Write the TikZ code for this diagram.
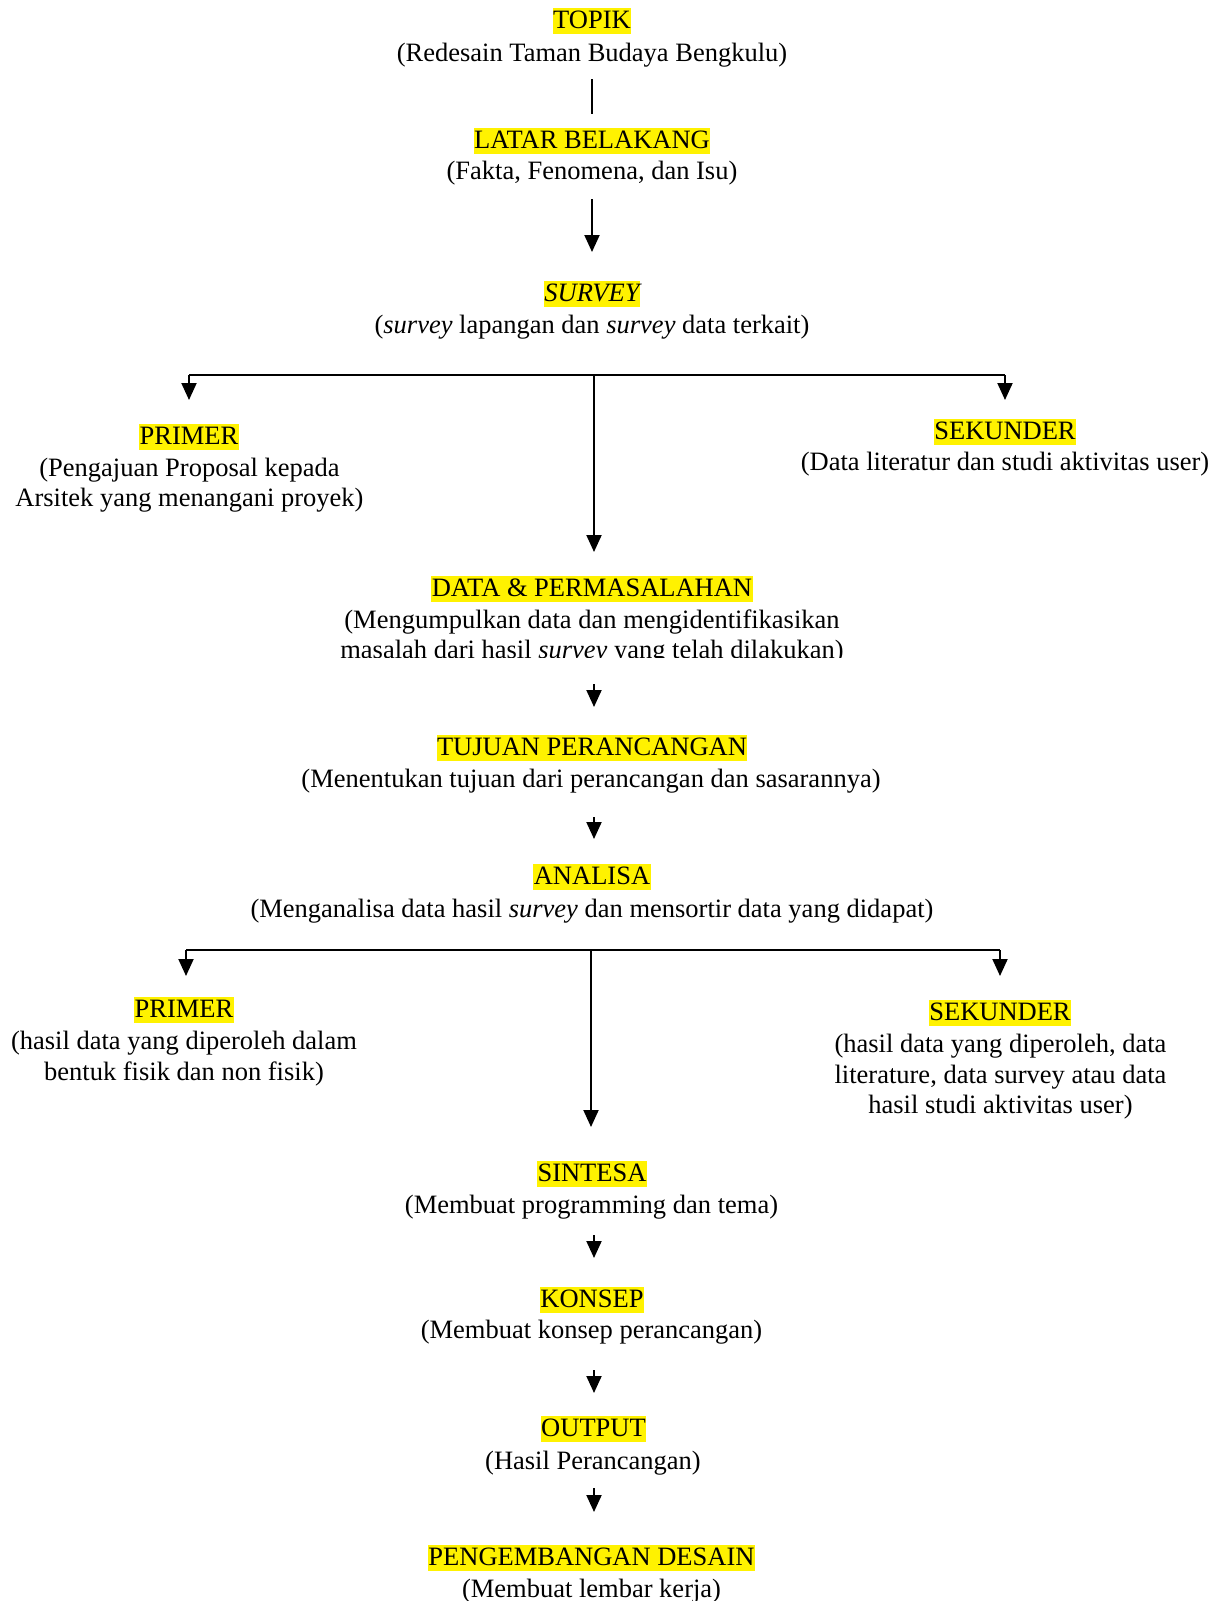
\documentclass[tikz,border=0pt]{standalone}
\usepackage{fontspec}
\setmainfont{Liberation Serif}
\usetikzlibrary{arrows.meta}
\begin{document}
\begin{tikzpicture}[x=1pt,y=-1pt,
  ttl/.style={fill=yellow,inner xsep=0.5pt,inner ysep=0pt,text height=20.5pt,text depth=5.5pt,
    font=\fontsize{26.5pt}{30.6pt}\selectfont},
  sub/.style={inner sep=0pt,align=center,font=\fontsize{26.5pt}{30.6pt}\selectfont},
  arr/.style={line width=2pt,-{Triangle[length=17pt,width=15pt]}},
  ln/.style={line width=2pt}]
\useasboundingbox (0,0) rectangle (1221,1601);

% TOPIK
\node[ttl] (t1) at (592,21) {TOPIK};
\node[sub] (s1) at (592,55) {(Redesain Taman Budaya Bengkulu)};
% LATAR BELAKANG
\node[ttl] (t2) at (592,141) {LATAR BELAKANG};
\node[sub] (s2) at (592,173) {(Fakta, Fenomena, dan Isu)};
% SURVEY
\node[ttl] (t3) at (592,294) {\itshape SURVEY};
\node[sub] (s3) at (592,327) {(\textit{survey} lapangan dan \textit{survey} data terkait)};
% PRIMER 1
\node[ttl] (t4) at (189,437) {PRIMER};
\node[sub] (s4) at (189.5,485) {(Pengajuan Proposal kepada\\Arsitek yang menangani proyek)};
% SEKUNDER 1
\node[ttl] (t5) at (1005,432) {SEKUNDER};
\node[sub] (s5) at (1005,464) {(Data literatur dan studi aktivitas user)};
% DATA & PERMASALAHAN
\node[ttl] (t6) at (592,589) {DATA \& PERMASALAHAN};
\begin{scope}
\clip (0,0) rectangle (1221,657);
\node[sub] (s6) at (592,637) {(Mengumpulkan data dan mengidentifikasikan\\masalah dari hasil \textit{survey} yang telah dilakukan)};
\end{scope}
% TUJUAN
\node[ttl] (t7) at (592,748) {TUJUAN PERANCANGAN};
\node[sub] (s7) at (591,781) {(Menentukan tujuan dari perancangan dan sasarannya)};
% ANALISA
\node[ttl] (t8) at (592,877) {ANALISA};
\node[sub] (s8) at (592,911) {(Menganalisa data hasil \textit{survey} dan mensortir data yang didapat)};
% PRIMER 2
\node[ttl] (t9) at (184,1010) {PRIMER};
\node[sub] (s9) at (184,1058.5) {(hasil data yang diperoleh dalam\\bentuk fisik dan non fisik)};
% SEKUNDER 2
\node[ttl] (t10) at (1000,1013) {SEKUNDER};
\node[sub] (s10) at (1000.5,1077) {(hasil data yang diperoleh, data\\literature, data survey atau data\\hasil studi aktivitas user)};
% SINTESA
\node[ttl] (t11) at (592,1174) {SINTESA};
\node[sub] (s11) at (591.5,1207) {(Membuat programming dan tema)};
% KONSEP
\node[ttl] (t12) at (592,1300) {KONSEP};
\node[sub] (s12) at (591.5,1332) {(Membuat konsep perancangan)};
% OUTPUT
\node[ttl] (t13) at (593.5,1429) {OUTPUT};
\node[sub] (s13) at (593,1463) {(Hasil Perancangan)};
% PENGEMBANGAN DESAIN
\node[ttl] (t14) at (591.5,1558) {PENGEMBANGAN DESAIN};
\node[sub] (s14) at (591.5,1591) {(Membuat lembar kerja)};

% connector coordinates
\coordinate (c1a) at (592,79);   \coordinate (c1b) at (592,114);
\coordinate (c2a) at (592,199);  \coordinate (c2b) at (592,252);
\coordinate (f1L) at (189,375);  \coordinate (f1R) at (1005,375); \coordinate (f1C) at (594,375);
\coordinate (f1Le) at (189,400); \coordinate (f1Re) at (1005,400); \coordinate (f1Ce) at (594,552);
\coordinate (c4a) at (594,684);  \coordinate (c4b) at (594,707);
\coordinate (c5a) at (594,817);  \coordinate (c5b) at (594,839);
\coordinate (f2L) at (186,950);  \coordinate (f2R) at (1000,950); \coordinate (f2C) at (591,950);
\coordinate (f2Le) at (186,976); \coordinate (f2Re) at (1000,976); \coordinate (f2Ce) at (591,1127);
\coordinate (c7a) at (594,1235); \coordinate (c7b) at (594,1258);
\coordinate (c8a) at (594,1370); \coordinate (c8b) at (594,1393);
\coordinate (c9a) at (594,1488); \coordinate (c9b) at (594,1512);

\draw[ln] (c1a) -- (c1b);
\draw[arr] (c2a) -- (c2b);
\draw[ln] (f1L) -- (f1R);
\draw[arr] (f1L) -- (f1Le);
\draw[arr] (f1R) -- (f1Re);
\draw[arr] (f1C) -- (f1Ce);
\draw[arr] (c4a) -- (c4b);
\draw[arr] (c5a) -- (c5b);
\draw[ln] (f2L) -- (f2R);
\draw[arr] (f2L) -- (f2Le);
\draw[arr] (f2R) -- (f2Re);
\draw[arr] (f2C) -- (f2Ce);
\draw[arr] (c7a) -- (c7b);
\draw[arr] (c8a) -- (c8b);
\draw[arr] (c9a) -- (c9b);
\end{tikzpicture}
\end{document}
